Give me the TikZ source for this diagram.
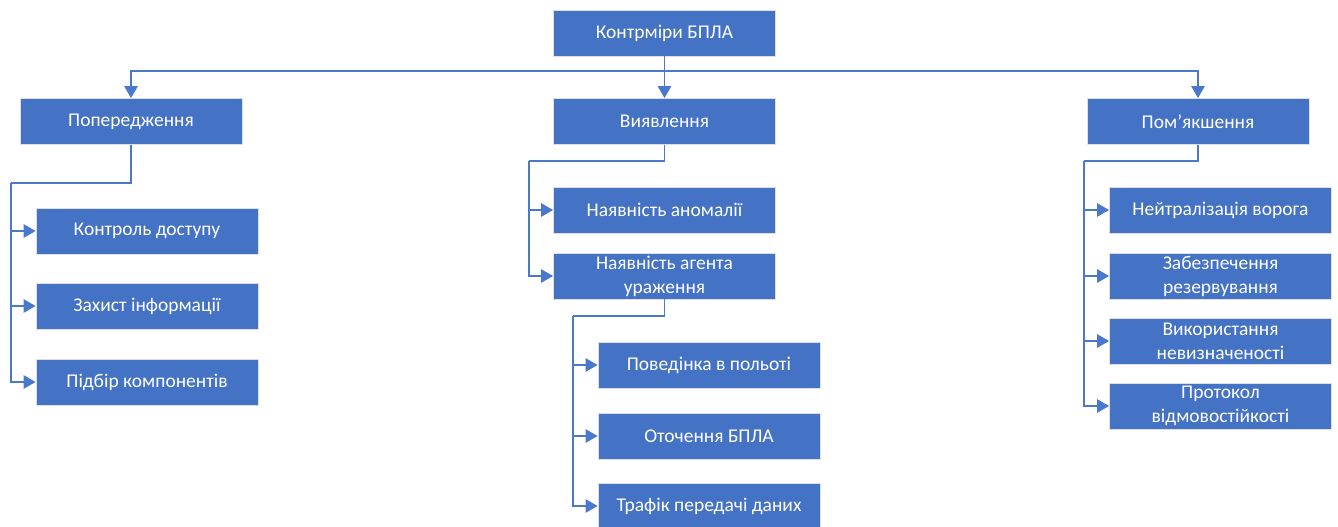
\documentclass[tikz,border=0pt]{standalone}
\usepackage{fontspec}
\setmainfont{Carlito}
\usetikzlibrary{arrows.meta}
\definecolor{boxblue}{HTML}{4472C4}
\definecolor{lineblue}{HTML}{4A78CC}
\def\conn{\draw[lineblue,line width=1.3pt,-{Triangle[length=9pt,width=10pt]}]}
\def\wire{\draw[lineblue,line width=1.3pt]}
\tikzset{
  box/.style={draw=gray!25,line width=0.6pt,fill=boxblue,text=white,
    minimum width=166.5pt,minimum height=34.5pt,inner sep=1pt,align=center,
    font=\fontsize{14.6}{18}\selectfont}
}

\begin{document}
\begin{tikzpicture}[x=0.75pt,y=-0.75pt]
  \useasboundingbox (0,0) rectangle (1338,527);
  % top
  \node[box] (root) at (664.5,33) {Контрміри БПЛА};
  \node[box] (prev) at (131,121.5) {Попередження};
  \node[box] (detect) at (664.5,121.5) {Виявлення};
  \node[box] (mitig) at (1198,121.5) {Пом’якшення};
  % prevention
  \node[box] (access) at (147,231) {Контроль доступу};
  \node[box] (info) at (147,306) {Захист інформації};
  \node[box] (parts) at (147,382) {Підбір компонентів};
  % detection
  \node[box] (anom) at (664.5,210) {Наявність аномалії};
  \node[box] (agent) at (664.5,276) {Наявність агента\\ураження};
  \node[box] (flight) at (709,365) {Поведінка в польоті};
  \node[box] (env) at (709,436) {Оточення БПЛА};
  \node[box] (traffic) at (709,506) {Трафік передачі даних};
  % mitigation
  \node[box] (neut) at (1220.5,210) {Нейтралізація ворога};
  \node[box] (resv) at (1220.5,276) {Забезпечення\\резервування};
  \node[box] (uncert) at (1220.5,341) {Використання\\невизначеності};
  \node[box] (proto) at (1220.5,406) {Протокол\\відмовостійкості};

  \coordinate (bus) at (664.5,71);
  \coordinate (pbus) at (11,183);
  \coordinate (dbus) at (529,161);
  \coordinate (abus) at (573,316);
  \coordinate (mbus) at (1084,161);

  \conn (root) -- (detect);
  \conn (bus) -| (prev);
  \conn (bus) -| (mitig);

  \wire (prev.south) |- (pbus);
  \conn (pbus) |- (access);
  \conn (pbus) |- (info);
  \conn (pbus) |- (parts);

  \wire (detect.south) |- (dbus);
  \conn (dbus) |- (anom);
  \conn (dbus) |- (agent);
  \wire (agent.south) |- (abus);
  \conn (abus) |- (flight);
  \conn (abus) |- (env);
  \conn (abus) |- (traffic);

  \wire (mitig.south) |- (mbus);
  \conn (mbus) |- (neut);
  \conn (mbus) |- (resv);
  \conn (mbus) |- (uncert);
  \conn (mbus) |- (proto);
\end{tikzpicture}
\end{document}
